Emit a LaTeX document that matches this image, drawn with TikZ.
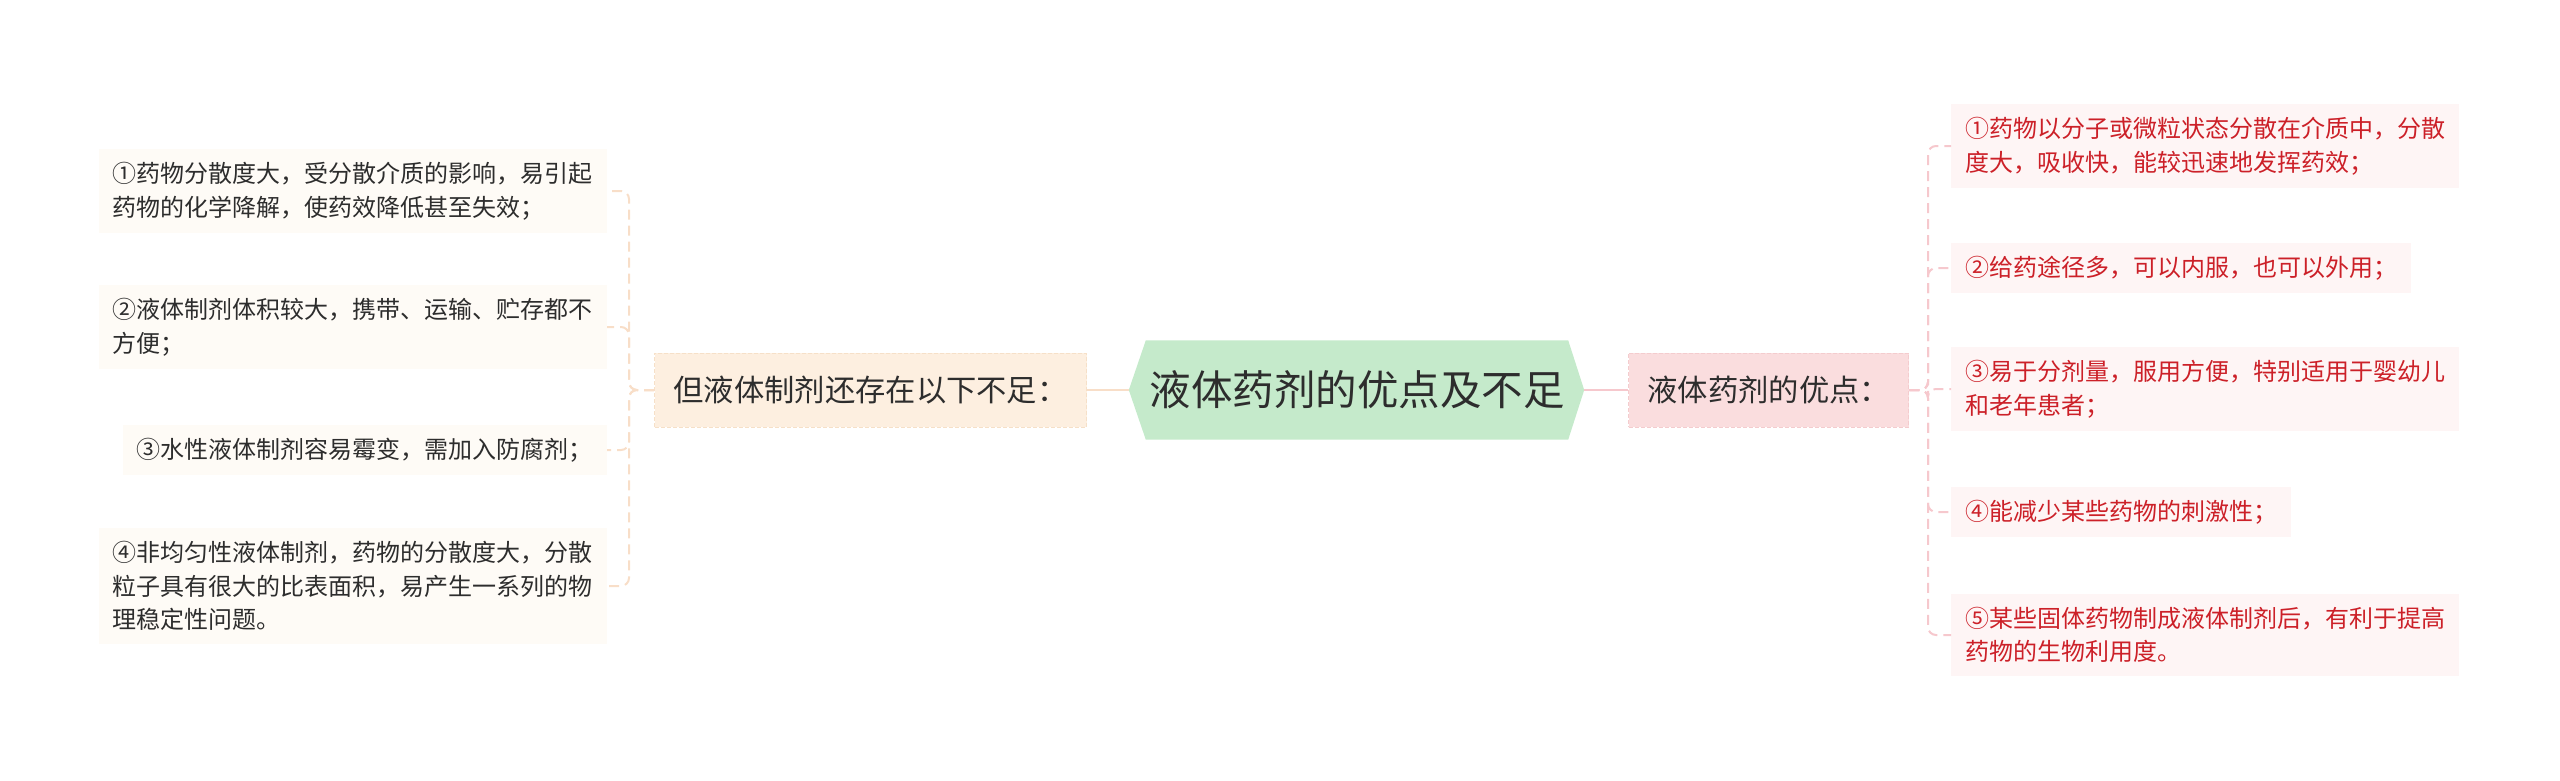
\documentclass[tikz,border=0pt]{standalone}
\usepackage{fontspec}
\newfontfamily\cjk{Noto Sans CJK SC}
\usetikzlibrary{backgrounds}
\definecolor{cfill}{RGB}{197,234,203}
\definecolor{lbfill}{RGB}{253,239,224}
\definecolor{lbedge}{RGB}{246,224,200}
\definecolor{rbfill}{RGB}{250,221,222}
\definecolor{rbedge}{RGB}{244,204,206}
\definecolor{lcfill}{RGB}{254,251,246}
\definecolor{rcfill}{RGB}{254,245,245}
\definecolor{redtext}{RGB}{204,32,40}
\definecolor{darktext}{RGB}{45,45,45}
\definecolor{lline}{RGB}{248,222,200}
\definecolor{rline}{RGB}{246,200,205}
\begin{document}
\begin{tikzpicture}[x=1pt,y=-1pt,
  childfont/.style={font=\cjk\fontsize{24}{33.6}\selectfont},
  lchild/.style={childfont, fill=lcfill, text=darktext, align=left, inner xsep=14pt, inner ysep=13pt, anchor=east},
  rchild/.style={childfont, fill=rcfill, text=redtext, align=left, inner xsep=14pt, inner ysep=13pt, anchor=west},
  branch/.style={font=\cjk\fontsize{30.3}{34}\selectfont, text=darktext, inner xsep=19pt, inner ysep=0pt, minimum height=74pt, line width=1pt, dash pattern=on 4pt off 2pt},
  ltree/.style={draw=lline, line width=2pt, dash pattern=on 10pt off 6pt, rounded corners=8pt},
  rtree/.style={draw=rline, line width=2pt, dash pattern=on 10pt off 6pt, rounded corners=8pt}]
\useasboundingbox (0,0) rectangle (2560,780);

% central node
\node[font=\cjk\fontsize{41.5}{44}\selectfont, text=darktext, minimum width=422pt, minimum height=99pt, inner sep=0pt] (c) at (1357,390) {液体药剂的优点及不足};
\begin{scope}[on background layer]
\fill[cfill] (c.north west) -- (c.north east) -- ([xshift=16pt]c.east) -- (c.south east) -- (c.south west) -- ([xshift=-17pt]c.west) -- cycle;
\end{scope}

% branches
\node[branch, fill=lbfill, draw=lbedge, anchor=east] (lb) at (1087,390) {但液体制剂还存在以下不足：};
\node[branch, fill=rbfill, draw=rbedge, anchor=west] (rb) at (1628,390) {液体药剂的优点：};

\draw[lline, line width=2pt] (lb.east) -- ([xshift=-17pt]c.west);
\draw[rline, line width=2pt] ([xshift=16pt]c.east) -- (rb.west);

% left children
\node[lchild, text width=480pt] (l1) at (607,191) {①药物分散度大，受分散介质的影响，易引起\\药物的化学降解，使药效降低甚至失效；};
\node[lchild, text width=480pt] (l2) at (607,327) {②液体制剂体积较大，携带、运输、贮存都不\\方便；};
\node[lchild, text width=456pt] (l3) at (607,450) {③水性液体制剂容易霉变，需加入防腐剂；};
\node[lchild, text width=480pt] (l4) at (607,586) {④非均匀性液体制剂，药物的分散度大，分散\\粒子具有很大的比表面积，易产生一系列的物\\理稳定性问题。};

% right children
\node[rchild, text width=480pt] (r1) at (1951,146) {①药物以分子或微粒状态分散在介质中，分散\\度大，吸收快，能较迅速地发挥药效；};
\node[rchild, text width=432pt] (r2) at (1951,268) {②给药途径多，可以内服，也可以外用；};
\node[rchild, text width=480pt] (r3) at (1951,389) {③易于分剂量，服用方便，特别适用于婴幼儿\\和老年患者；};
\node[rchild, text width=312pt] (r4) at (1951,512) {④能减少某些药物的刺激性；};
\node[rchild, text width=480pt] (r5) at (1951,635) {⑤某些固体药物制成液体制剂后，有利于提高\\药物的生物利用度。};

% junctions
\coordinate (lj) at (629,390);
\coordinate (rj) at (1928,390);

\foreach \n in {l1,l2,l3,l4}{
  \draw[ltree] (lb.west) -- (lj) |- (\n.east);
}
\foreach \n in {r1,r2,r3,r4,r5}{
  \draw[rtree] (rb.east) -- (rj) |- (\n.west);
}
\end{tikzpicture}
\end{document}
